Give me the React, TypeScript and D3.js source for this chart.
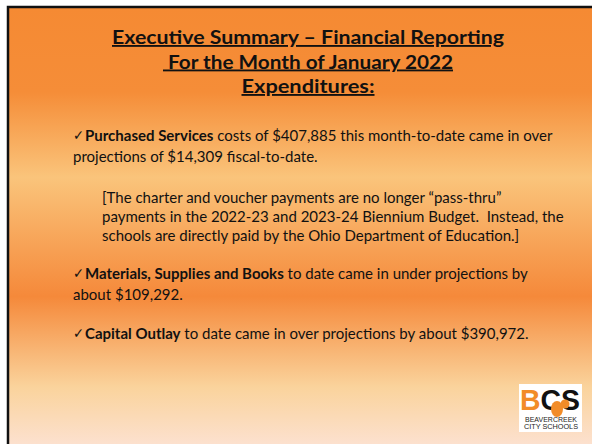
import * as d3 from 'd3';
import React from 'react';

const W = 592;
const H = 444;

const TITLE_LINES = [
  "Executive Summary – Financial Reporting",
  " For the Month of January 2022",
  "Expenditures:"
];
// rendered widths of the title lines
const TITLE_WIDTHS = [392, 290, 133];

// each bullet: bold lead, then the rest, then wrapped lines
const BULLET_LEADS = ["Purchased Services", "Materials, Supplies and Books", "Capital Outlay"];
const BULLET_FIRST = [
  " costs of $407,885 this month-to-date came in over",
  " to date came in under projections by",
  " to date came in over projections by about $390,972."
];
const BULLET_REST = [
  ["projections of $14,309 fiscal-to-date."],
  ["about $109,292."],
  []
];
const NOTE_LINES = [
  "[The charter and voucher payments are no longer “pass-thru”",
  "payments in the 2022-23 and 2023-24 Biennium Budget.  Instead, the",
  "schools are directly paid by the Ohio Department of Education.]"
];

// background gradient stops: [y, colour]
const BG_STOPS: [number, string][] = [
  [8, "#F58A33"],
  [88, "#F58D38"],
  [168, "#FAC47B"],
  [280, "#F5893A"],
  [365, "#FAD39C"],
  [444, "#FDE7E6"]
];

const FONT = "Lato, 'Open Sans', sans-serif";

const App: React.FC = () => {
  const gy = d3.scaleLinear().domain([8, 444]).range([0, 100]);
  const titleY = d3.scaleLinear().domain([0, 1]).range([44, 68.5]);
  const bulletY = [141, 279, 339];
  const noteY = d3.scaleLinear().domain([0, 1]).range([203, 222]);

  return (
    <svg width={W} height={H} style={{ position: "absolute", left: 0, top: 0 }}>
      <defs>
        <linearGradient id="bg" x1="0" y1="0" x2="0" y2="1">
          {BG_STOPS.map(([y, c], i) => (
            <stop key={i} offset={`${gy(y)}%`} stopColor={c} />
          ))}
        </linearGradient>
      </defs>
      <rect x={0} y={0} width={W} height={H} fill="#fff" />
      <rect x={8} y={7} width={W + 20} height={H + 20} fill="url(#bg)" stroke="#111" strokeWidth={2.5} />

      {/* title */}
      <g fontFamily={FONT} fontWeight="bold" fontSize={18.5} fill="#111" textAnchor="middle">
        {TITLE_LINES.map((t, i) => (
          <text key={i} x={308} y={titleY(i)} textDecoration="underline"
            textLength={TITLE_WIDTHS[i]} lengthAdjust="spacingAndGlyphs" style={{ whiteSpace: "pre" }}>
            {t}
          </text>
        ))}
      </g>

      {/* bullets */}
      <g fontFamily={FONT} fontSize={15} fill="#111">
        {[0, 1, 2].map(i => {
          const y0 = bulletY[i];
          return (
            <g key={i}>
              <text x={73} y={y0 - 1} fontSize={14} fontWeight="bold" fontFamily="'DejaVu Sans', sans-serif"
                textLength={11} lengthAdjust="spacingAndGlyphs">✓</text>
              <text x={85} y={y0} style={{ whiteSpace: "pre" }}>
                <tspan fontWeight="bold">{BULLET_LEADS[i]}</tspan>
                <tspan>{BULLET_FIRST[i]}</tspan>
              </text>
              {BULLET_REST[i].map((l, j) => (
                <text key={j} x={73} y={y0 + 21 * (j + 1)}>{l}</text>
              ))}
            </g>
          );
        })}
        {NOTE_LINES.map((l, j) => (
          <text key={j} x={102} y={noteY(j)} style={{ whiteSpace: "pre" }}>{l}</text>
        ))}
      </g>

      {/* logo */}
      <g>
        <rect x={519} y={384} width={63} height={48} fill="#fff" />
        <text x={520} y={410} fontFamily="'Liberation Sans', sans-serif" fontWeight="bold" fontSize={29}
          textLength={60} lengthAdjust="spacingAndGlyphs">
          <tspan fill="#F28C28">B</tspan>
          <tspan fill="#111">CS</tspan>
        </text>
        <ellipse cx={557} cy={409} rx={6} ry={8} fill="#F28C28" />
        <circle cx={565} cy={404} r={4.5} fill="#F28C28" />
        <text x={551} y={421.5} textAnchor="middle" fontFamily="'Liberation Sans', sans-serif" fontSize={6.8} fill="#222"
          textLength={52} lengthAdjust="spacingAndGlyphs">BEAVERCREEK</text>
        <text x={551} y={429} textAnchor="middle" fontFamily="'Liberation Sans', sans-serif" fontSize={6.8} fill="#222"
          textLength={54} lengthAdjust="spacingAndGlyphs">CITY SCHOOLS</text>
      </g>
    </svg>
  );
};

export default App;
